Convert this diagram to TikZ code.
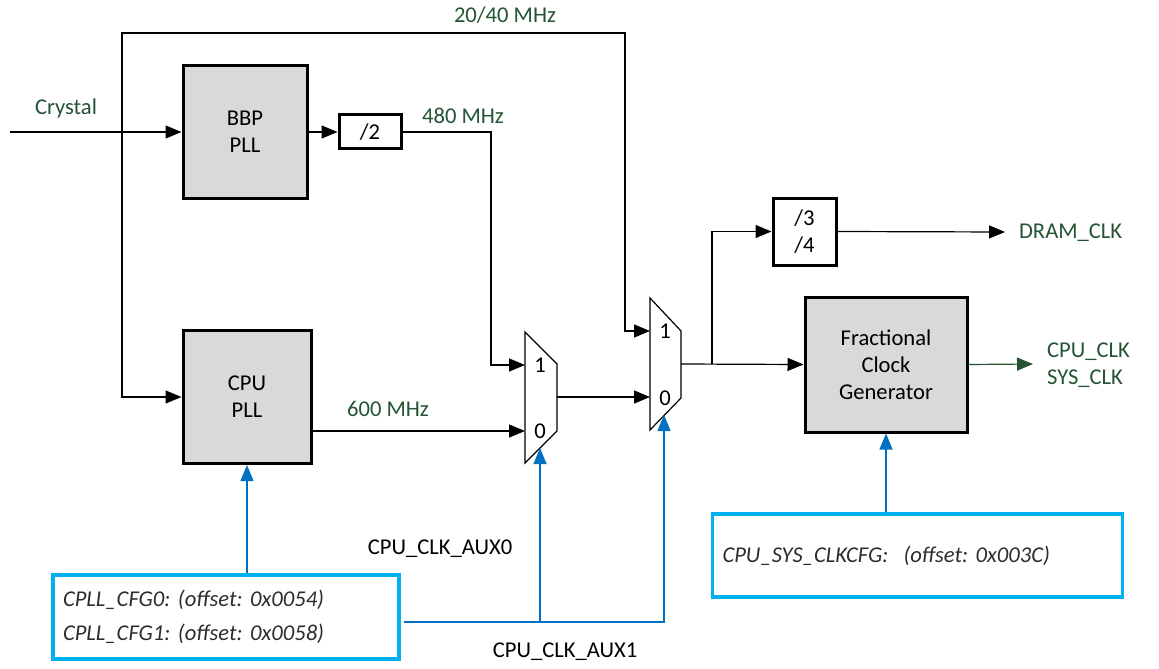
\documentclass[tikz,border=0pt]{standalone}
\usepackage{fontspec}
\setmainfont{Carlito}
\usetikzlibrary{arrows.meta}
\frenchspacing
\definecolor{sig}{RGB}{36,84,52}
\definecolor{ctl}{RGB}{0,112,192}
\definecolor{reg}{RGB}{0,176,240}
\definecolor{blk}{RGB}{217,217,217}
\definecolor{regtxt}{RGB}{45,45,45}
\tikzset{
  arr/.style={-{Triangle[length=8pt,width=6.5pt]}, line width=0.6pt},
  pllbox/.style={draw, line width=1.5pt, fill=blk, align=center},
  divbox/.style={draw, line width=1.5pt, fill=white, align=center},
  regbox/.style={draw=reg, line width=1.6pt, align=left, text=regtxt, font=\itshape\fontsize{11.3}{17}\selectfont},
  ctlarr/.style={ctl, -{Triangle[length=8pt,width=6.5pt]}, line width=0.6pt},
  siglbl/.style={text=sig},
}
\begin{document}
\begin{tikzpicture}[x=0.5pt, y=-0.5pt, font=\fontsize{11.3}{13.5}\selectfont]
\useasboundingbox (0,0) rectangle (1159,668);
% blocks
\node[pllbox, minimum width=62pt, minimum height=66pt] (bbp) at (245,132) {BBP\\PLL};
\node[divbox, minimum width=31pt, minimum height=17pt] (div2) at (370,132) {/2};
\node[pllbox, minimum width=64pt, minimum height=66.5pt] (cpupll) at (247,397) {CPU\\PLL};
\node[divbox, minimum width=31.5pt, minimum height=33.5pt] (div34) at (804.5,231.5) {/3\\/4};
\node[pllbox, minimum width=81pt, minimum height=67.5pt] (fcg) at (886,364.5) {Fractional\\Clock\\Generator};
\node[regbox, minimum width=173pt, minimum height=42pt, text width=163pt, inner sep=5pt] (cpllcfg) at (226,617)
  {CPLL\_CFG0: (offset: 0x0054)\\CPLL\_CFG1: (offset: 0x0058)};
\node[regbox, minimum width=203.5pt, minimum height=41.5pt, text width=195pt, inner sep=5pt] (syscfg) at (917.5,555.5)
  {CPU\_SYS\_CLKCFG:\ \ (offset: 0x003C)};
% muxes
\draw[line width=0.6pt] (525,332) -- (557,364) -- (557,431) -- (525,463) -- cycle;
\draw[line width=0.6pt] (650,298) -- (681,331) -- (681,398) -- (650,430) -- cycle;
\node (m1one) at (540,365) {1};
\node (m1zero) at (540,431) {0};
\node (m2one) at (665,331) {1};
\node (m2zero) at (665,398) {0};
\coordinate (m1in1) at (525,365);
\coordinate (m1in0) at (525,431);
\coordinate (m1out) at (557,397);
\coordinate (m1sel) at (540,448);
\coordinate (m2in1) at (650,331);
\coordinate (m2in0) at (650,397);
\coordinate (m2out) at (681,364);
\coordinate (m2sel) at (664,415);
% free ends
\coordinate (xin) at (10,132);
\coordinate (jx) at (122,132);
\coordinate (jm) at (712,364);
\coordinate (dram) at (1005,232);
\coordinate (cpuout) at (1033,364);
\coordinate (bus) at (404,622);
% clock paths
\draw[arr] (xin) -- (bbp.west);
\draw[arr] (jx) |- (cpupll.west);
\draw[arr] (jx) |- (625,33) |- (m2in1);
\draw[arr] (bbp.east) -- (div2.west);
\draw[arr] (div2.east) -| (491,250) |- (m1in1);
\draw[arr] (cpupll.east |- m1in0) -- (m1in0);
\draw[arr] (m1out) -- (m2in0);
\draw[arr] (m2out) -- (fcg.west);
\draw[arr] (jm) |- (div34.west);
\draw[arr] (div34.east) -- (dram);
\draw[arr, sig] (fcg.east) -- (cpuout);
% control paths
\draw[ctlarr] (cpupll.south |- cpllcfg.north) -- (cpupll.south);
\draw[ctlarr] (bus) -| (m2sel);
\draw[ctlarr] (m1sel |- bus) -- (m1sel);
\draw[ctlarr] (fcg.south |- syscfg.north) -- (fcg.south);
% labels
\node[siglbl] (crystal) at (66,108) {Crystal};
\node[siglbl] (f2040) at (505,15) {20/40 MHz};
\node[siglbl] (f480) at (463,116) {480 MHz};
\node[siglbl] (f600) at (388,409) {600 MHz};
\node[siglbl, anchor=west] (dramlbl) at (1012,233) {DRAM\_CLK};
\node[siglbl, anchor=west, align=left] (cpulbl) at (1040,365) {CPU\_CLK\\SYS\_CLK};
\node (aux0) at (440,549) {CPU\_CLK\_AUX0};
\node (aux1) at (565,652) {CPU\_CLK\_AUX1};
\end{tikzpicture}
\end{document}
